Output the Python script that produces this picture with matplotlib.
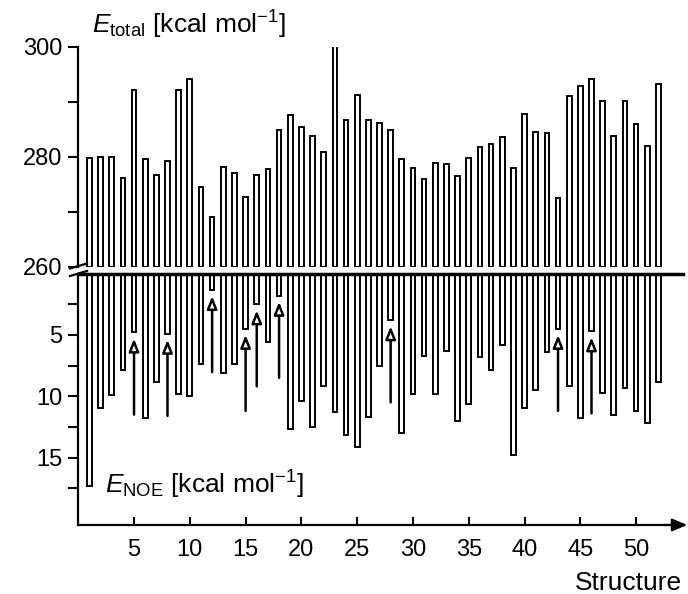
import numpy as np
import matplotlib
matplotlib.use("Agg")
import matplotlib.pyplot as plt
from matplotlib.lines import Line2D

plt.rcParams['font.family'] = 'Liberation Sans'
plt.rcParams['mathtext.fontset'] = 'custom'
plt.rcParams['mathtext.rm'] = 'Liberation Sans'
plt.rcParams['mathtext.it'] = 'Liberation Sans:italic'

# structure number -> energies
structures = np.arange(1, 53)
e_total = [279.7, 279.9, 279.9, 276.1, 292.1, 279.5, 276.7, 279.2, 292.1, 294.1,
           274.5, 269.1, 278.1, 277.0, 272.7, 276.6, 277.7, 284.8, 287.6, 285.4,
           283.8, 280.9, 302.0, 286.7, 291.3, 286.6, 286.1, 284.8, 279.6, 278.0,
           276.0, 278.8, 278.7, 276.5, 279.8, 281.8, 282.4, 283.5, 278.0, 287.7,
           284.5, 284.4, 272.5, 291.0, 292.8, 294.1, 290.2, 283.8, 290.2, 285.9,
           281.9, 293.3]
e_noe = [17.3, 11.0, 9.9, 7.85, 4.8, 11.8, 8.8, 4.9, 9.8, 10.0,
         7.4, 1.33, 8.1, 7.4, 4.5, 2.5, 5.6, 1.8, 12.7, 10.4,
         12.5, 9.2, 11.3, 13.2, 14.1, 11.7, 7.5, 3.8, 13.0, 9.8,
         6.7, 9.8, 6.3, 12.0, 10.6, 6.8, 7.9, 5.8, 14.8, 11.0,
         9.5, 6.4, 4.5, 9.2, 11.8, 4.7, 9.7, 11.5, 9.3, 11.2,
         12.2, 8.8]
marked = [5, 8, 12, 15, 16, 18, 28, 43, 46]  # structures with arrows
x_ticks = [5, 10, 15, 20, 25, 30, 35, 40, 45, 50]

W, H = 688, 594
fig = plt.figure(figsize=(W / 100, H / 100), dpi=100)


def box(x0, y0, x1, y1):
    # pixel box (y measured from the top) -> figure fraction
    return [x0 / W, 1 - y1 / H, (x1 - x0) / W, (y1 - y0) / H]


ax_top = fig.add_axes(box(78, 46.7, 683, 266.7))
ax_bot = fig.add_axes(box(78, 273.6, 683, 525))

bar_kw = dict(width=0.42, color='white', edgecolor='black', linewidth=1.4)
FS_TICK = 17
FS_LABEL = 19

# upper panel: total energy
ax_top.bar(structures, np.array(e_total) - 260, bottom=260, **bar_kw)
ax_top.set_xlim(-0.02, 54.2)
ax_top.set_ylim(260, 300)
for side in ['top', 'right', 'bottom']:
    ax_top.spines[side].set_visible(False)
ax_top.spines['left'].set_linewidth(1.6)
ax_top.set_xticks([])
ax_top.set_yticks([260, 280, 300])
ax_top.set_yticks([270, 290], minor=True)
ax_top.tick_params(axis='y', which='both', direction='out', length=7.5, width=1.5,
                   labelsize=FS_TICK, pad=4)

# lower panel: NOE energy, hanging down from zero
ax_bot.bar(structures, e_noe, **bar_kw)
ax_bot.set_xlim(-0.02, 54.2)
ax_bot.set_ylim(20.5, 0)
ax_bot.spines['right'].set_visible(False)
ax_bot.spines['top'].set_linewidth(2.5)
ax_bot.spines['left'].set_linewidth(1.6)
ax_bot.spines['bottom'].set_linewidth(1.6)
ax_bot.set_yticks([5, 10, 15])
ax_bot.set_yticks([2.5, 7.5, 12.5, 17.5], minor=True)
ax_bot.tick_params(axis='y', which='both', direction='out', length=7.5, width=1.5,
                   labelsize=FS_TICK, pad=4)
ax_bot.set_xticks(x_ticks)
ax_bot.tick_params(axis='x', direction='in', length=6, width=1.5,
                   labelsize=FS_TICK, pad=10, top=False)

for s in marked:
    tip = e_noe[s - 1] + 0.5
    ax_bot.annotate('', xy=(s, tip), xytext=(s, tip + 6.2),
                    arrowprops=dict(arrowstyle='-|>,head_length=0.75,head_width=0.3',
                                    fc='white', ec='black', lw=1.8,
                                    shrinkA=0, shrinkB=0))

# arrow head on the x axis
ax_bot.annotate('', xy=(1.007, 0), xycoords='axes fraction', xytext=(0.97, 0),
                textcoords='axes fraction', annotation_clip=False,
                arrowprops=dict(arrowstyle='-|>,head_length=0.9,head_width=0.38',
                                fc='black', ec='black', lw=1.6,
                                shrinkA=0, shrinkB=0))

# axis break marks
for y0 in [268.5, 276]:
    fig.add_artist(Line2D([70 / W, 87 / W], [1 - y0 / H, 1 - (y0 - 5) / H],
                          transform=fig.transFigure, color='black', lw=1.6))

fig.text(92 / W, 1 - 34 / H, r'$E_{\mathrm{total}}$ [kcal mol$^{-1}$]',
         fontsize=FS_LABEL, ha='left', va='baseline')
fig.text(105 / W, 1 - 494 / H, r'$E_{\mathrm{NOE}}$ [kcal mol$^{-1}$]',
         fontsize=FS_LABEL, ha='left', va='baseline')
fig.text(682 / W, 1 - 590 / H, 'Structure', fontsize=FS_LABEL,
         ha='right', va='baseline')

fig.savefig('out.png', dpi=100)
